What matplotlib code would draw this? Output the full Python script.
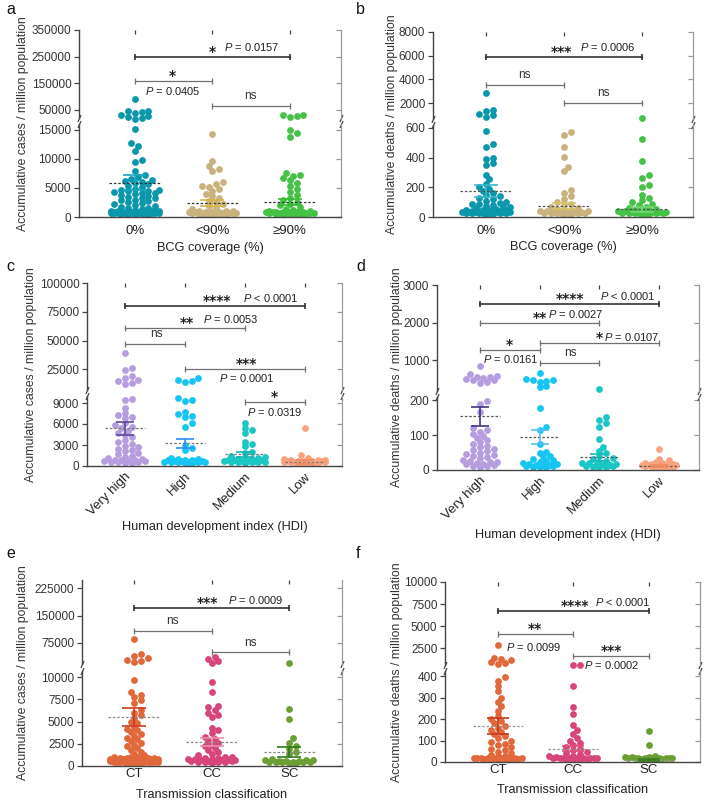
"""Scatter dot plots with broken y axes (BCG, HDI, transmission)"""

import numpy as np
import matplotlib
matplotlib.use('Agg')
import matplotlib.pyplot as plt
from matplotlib.transforms import Bbox, TransformedBbox

plt.rcParams['font.family'] = ['Liberation Sans', 'DejaVu Sans']
plt.rcParams['mathtext.fontset'] = 'custom'
plt.rcParams['mathtext.it'] = 'Liberation Sans:italic'
plt.rcParams['mathtext.rm'] = 'Liberation Sans'
plt.rcParams['text.color'] = '#222222'

W, H = 705, 801

# ---------------- data ----------------
bcg_labels = ['0%', '<90%', '≥90%']
hdi_labels = ['Very high', 'High', 'Medium', 'Low']
trans_labels = ['CT', 'CC', 'SC']

# a: cases by BCG coverage
cases_bcg_0 = [90000, 48000, 46000, 41000, 38000, 33000, 29000, 25000, 21000, 18000,
               15100, 12800, 12200, 11400, 9800, 9500, 8000, 7200, 6900, 6600,
               6400, 6200, 6000, 5800, 5600, 5400, 5100, 4900, 4700, 4600, 4500,
               4400, 4300, 4200, 4100, 3900, 3800, 3600, 3500, 3300, 3200, 3000,
               2900, 2700, 2600, 2400, 2200, 2100, 1900, 1800, 1600, 1500, 1400,
               1200, 1100, 1000, 980, 950, 930, 900, 880, 860, 840, 820, 800, 780,
               760, 740, 720, 700, 690, 680, 670, 660, 650, 640, 630, 620, 610,
               600, 590, 580, 570, 560]
cases_bcg_1 = [14300, 9600, 8700, 8300, 7900, 6000, 5700, 5400, 5200, 4900, 4500,
               4000, 3600, 3200, 2800, 2500, 2200, 1900, 1600, 1300, 1100, 1000,
               950, 900, 870, 840, 800, 780, 760, 740, 720, 700, 680, 660, 640,
               620, 600, 590, 580, 570, 560]
cases_bcg_2 = [33000, 30000, 27000, 24000, 15000, 14400, 13800, 7600, 7300, 7000,
               6700, 6300, 5900, 5300, 4800, 4300, 3700, 3300, 2900, 2600, 2300,
               2000, 1700, 1400, 1200, 1000, 960, 920, 900, 880, 850, 820, 800,
               780, 760, 740, 720, 700, 680, 660, 640, 620, 600, 590, 580, 570, 560]
cases_bcg_mean = [5900, 2450, 2550]
cases_bcg_sem = [1250, 520, 550]

# b: deaths by BCG coverage
deaths_bcg_0 = [2870, 1450, 1300, 1050, 950, 800, 580, 490, 475, 400, 390, 365,
                350, 285, 255, 225, 205, 190, 175, 160, 150, 140, 130, 120, 110,
                100, 95, 90, 85, 80, 75, 70, 65, 60, 55, 50, 48, 46, 44, 42, 40,
                39, 38, 37, 36, 35, 34, 33, 32, 31, 30, 29, 28, 27, 26, 25, 24, 23, 22]
deaths_bcg_1 = [570, 555, 475, 405, 340, 310, 180, 165, 140, 120, 100, 90, 80, 70,
                60, 55, 50, 46, 42, 40, 38, 36, 34, 32, 30, 29, 28, 27, 26, 25, 24,
                23, 22]
deaths_bcg_2 = [720, 525, 377, 280, 265, 215, 205, 150, 130, 115, 100, 90, 80, 70,
                62, 55, 50, 46, 42, 40, 38, 36, 34, 32, 31, 30, 29, 28, 27, 26, 25,
                24, 23, 22]
deaths_bcg_mean = [175, 74, 52]
deaths_bcg_sem = [41, 20, 15]

# c: cases by HDI
cases_hdi_0 = [39000, 26000, 24000, 19000, 17500, 16000, 15000, 13500, 12000,
               9600, 9400, 8300, 7600, 7300, 7000, 6800, 6100, 5900, 5600, 5400,
               5000, 4700, 4400, 4100, 3700, 3400, 3100, 2900, 2700, 2500, 2300,
               2100, 1900, 1700, 1500, 1300, 1100, 950, 900, 850, 800, 750, 700,
               650, 600, 560, 530, 500, 470]
cases_hdi_1 = [17500, 16000, 15000, 14000, 9700, 9500, 9300, 7700, 7400, 7200,
               7000, 6100, 5600, 3000, 2600, 2300, 1100, 1000, 950, 900, 850, 800,
               760, 720, 690, 660, 630, 600, 580, 560, 540, 520, 500, 480]
cases_hdi_2 = [6200, 5400, 5100, 4700, 3500, 3100, 2800, 2000, 1800, 1500, 1300,
               1100, 1050, 1000, 950, 900, 850, 800, 760, 720, 690, 660, 630, 600,
               570, 540, 510, 480]
cases_hdi_3 = [5500, 1600, 1100, 950, 900, 860, 820, 780, 750, 720, 690, 660, 640,
               620, 600, 580, 560, 540, 520, 500, 480, 470, 460]
cases_hdi_mean = [5400, 3250, 1670, 600]
cases_hdi_sem = [950, 650, 370, 250]

# d: deaths by HDI
deaths_hdi_0 = [840, 620, 590, 560, 540, 520, 500, 480, 460, 430, 400, 198, 190,
                168, 120, 115, 110, 104, 98, 93, 85, 80, 75, 70, 65, 60, 57, 54,
                50, 47, 44, 40, 37, 34, 30, 26, 24, 22, 20, 18, 16, 14, 12, 11, 10]
deaths_hdi_1 = [660, 500, 480, 460, 440, 420, 300, 280, 178, 124, 116, 75, 52, 48,
                40, 36, 32, 28, 25, 22, 20, 18, 16, 15, 14, 13, 12, 11, 10, 10, 9]
deaths_hdi_2 = [225, 152, 143, 134, 124, 88, 67, 55, 48, 40, 35, 31, 27, 24, 21,
                19, 17, 15, 14, 13, 12, 11, 10, 10, 9]
deaths_hdi_3 = [59, 33, 28, 22, 20, 19, 18, 17, 16, 15, 14, 13, 13, 12, 12, 11, 11,
                10, 10, 9, 9]
deaths_hdi_mean = [154, 95, 37, 12]
deaths_hdi_sem = [27, 21, 10, 3]

# e: cases by transmission classification
cases_tr_0 = [85000, 45000, 40000, 33000, 29000, 25000, 22000, 9650, 8300, 8000,
              7800, 7400, 7100, 6300, 6000, 5700, 5400, 5000, 4800, 4400, 4200,
              4000, 3800, 3600, 3400, 3200, 3000, 2800, 2600, 2400, 2200, 2000,
              1800, 1600, 1400, 1200, 1000, 980, 960, 940, 920, 900, 880, 860, 840,
              820, 800, 780, 760, 740, 720, 700, 680, 660, 640, 620, 600, 580, 560,
              540, 520, 500, 490, 480, 470, 460, 450, 440, 430, 420, 410, 400, 390,
              380, 370]
cases_tr_1 = [36000, 31000, 26000, 21000, 9450, 8300, 6800, 6600, 6300, 6000, 5800,
              5500, 4300, 4000, 3700, 3300, 3000, 2800, 2600, 2400, 2200, 2000,
              1800, 1600, 1400, 1200, 1000, 960, 920, 880, 840, 800, 760, 720, 690,
              660, 630, 600, 570, 540, 510, 480, 450, 420, 400, 380]
cases_tr_2 = [20000, 6450, 5350, 3100, 2600, 2200, 1900, 1600, 1300, 750, 700, 650,
              620, 590, 560, 530, 500, 480, 460, 440, 420, 400, 385, 370]
cases_tr_mean = [5530, 2720, 1600]
cases_tr_sem = [1050, 470, 580]

# f: deaths by transmission classification
deaths_tr_0 = [2840, 1350, 1250, 1150, 950, 850, 700, 395, 380, 356, 333, 300,
               280, 260, 240, 215, 200, 190, 180, 170, 160, 150, 140, 130, 120,
               110, 100, 92, 85, 78, 70, 62, 55, 48, 40, 34, 28, 22, 21, 20, 20,
               19, 19, 18, 18, 17, 17, 16, 16, 16, 15, 15, 15]
deaths_tr_1 = [650, 620, 356, 256, 225, 171, 150, 133, 111, 100, 90, 80, 71, 62,
               55, 48, 42, 36, 30, 26, 22, 21, 20, 20, 19, 19, 18, 18, 17, 17, 16,
               16, 15, 15]
deaths_tr_2 = [143, 79, 28, 25, 23, 22, 21, 20, 20, 19, 19, 18, 18, 17, 17, 16, 16,
               15, 15]
deaths_tr_mean = [169, 63, 10]
deaths_tr_sem = [36, 12, 3]

bcg_colors = ['#0b97ab', '#c9b27d', '#45c145']
hdi_colors = ['#b69ddf', '#16c5f2', '#1bc7c3', '#fba37f']
tr_colors = ['#e0683b', '#d7457b', '#6b9e33']

CASES = 'Accumulative cases / million population'
DEATHS = 'Accumulative deaths / million population'

PANELS = [
    dict(tag='a', tag_xy=(6, 10), groups=[cases_bcg_0, cases_bcg_1, cases_bcg_2],
         mean=cases_bcg_mean, sem=cases_bcg_sem, labels=bcg_labels, colors=bcg_colors,
         ecolors=['#17a6bb', '#d5b743', '#34bb34'], mcolor='#333333',
         box=(79, 341, 30, 118, 124, 217), xlim=(-0.72, 2.66),
         hi=(20000, 350000), lo=(0, 16000),
         hi_ticks=[50000, 150000, 250000, 350000], lo_ticks=[0, 5000, 10000, 15000],
         ylab=(CASES, 23), xlab=('BCG coverage (%)', 248), xpad=5.5, rot=False,
         brackets=[
             dict(x=(0, 2), y=250000, ax='hi', s='*', sx=1.0, p='= 0.0157', px=1.51, pp=7, dark=True),
             dict(x=(0, 1), y=159000, ax='hi', s='*', sx=0.48, p='= 0.0405', px=0.49, pp=-7.5),
             dict(x=(1, 2), y=65000, ax='hi', s='ns', sx=1.49),
         ]),
    dict(tag='b', tag_xy=(356, 10), groups=[deaths_bcg_0, deaths_bcg_1, deaths_bcg_2],
         mean=deaths_bcg_mean, sem=deaths_bcg_sem, labels=bcg_labels, colors=bcg_colors,
         ecolors=['#35b8cb', '#d9c466', '#72d872'], mcolor='#555555',
         box=(433, 693, 32, 119, 125, 217), xlim=(-0.68, 2.65),
         hi=(650, 8000), lo=(0, 620),
         hi_ticks=[2000, 4000, 6000, 8000], lo_ticks=[0, 200, 400, 600],
         ylab=(DEATHS, 392), xlab=('BCG coverage (%)', 247), xpad=6, rot=False,
         brackets=[
             dict(x=(0, 2), y=5900, ax='hi', s='***', sx=0.97, p='= 0.0006', px=1.56, pp=7, dark=True),
             dict(x=(0, 1), y=3520, ax='hi', s='ns', sx=0.49),
             dict(x=(1, 2), y=2000, ax='hi', s='ns', sx=1.5),
         ]),
    dict(tag='c', tag_xy=(6, 267), groups=[cases_hdi_0, cases_hdi_1, cases_hdi_2, cases_hdi_3],
         mean=cases_hdi_mean, sem=cases_hdi_sem, labels=hdi_labels, colors=hdi_colors,
         ecolors=['#5b4a9e', '#2b8ef0', '#12b3b3', '#f08a60'], mcolor='#777777',
         box=(87, 342, 283, 390, 396, 466), xlim=(-0.63, 3.62),
         hi=(7000, 100000), lo=(0, 10000),
         hi_ticks=[25000, 50000, 75000, 100000], lo_ticks=[0, 3000, 6000, 9000],
         ylab=(CASES, 31), xlab=('Human development index (HDI)', 527), xpad=3, rot=True,
         brackets=[
             dict(x=(0, 3), y=80000, ax='hi', s='****', sx=1.53, p='< 0.0001', px=2.43, pp=6, dark=True),
             dict(x=(0, 2), y=60800, ax='hi', s='**', sx=1.03, p='= 0.0053', px=1.77, pp=6.5),
             dict(x=(0, 1), y=46900, ax='hi', s='ns', sx=0.53),
             dict(x=(1, 3), y=25000, ax='hi', s='***', sx=2.03, p='= 0.0001', px=2.03, pp=-6.5),
             dict(x=(2, 3), y=9100, ax='lo', s='*', sx=2.5, p='= 0.0319', px=2.5, pp=-7),
         ]),
    dict(tag='d', tag_xy=(356, 267), groups=[deaths_hdi_0, deaths_hdi_1, deaths_hdi_2, deaths_hdi_3],
         mean=deaths_hdi_mean, sem=deaths_hdi_sem, labels=hdi_labels, colors=hdi_colors,
         ecolors=['#3f3386', '#59c0f4', '#18bcbc', '#f08a60'], mcolor='#555555',
         box=(437, 699, 285, 391, 397, 470), xlim=(-0.72, 3.67),
         hi=(180, 3000), lo=(0, 210),
         hi_ticks=[1000, 2000, 3000], lo_ticks=[0, 100, 200],
         ylab=(DEATHS, 397), xlab=('Human development index (HDI)', 535), xpad=3, rot=True,
         brackets=[
             dict(x=(0, 3), y=2490, ax='hi', s='****', sx=1.51, p='< 0.0001', px=2.47, pp=6, dark=True),
             dict(x=(0, 2), y=2000, ax='hi', s='**', sx=1.0, p='= 0.0027', px=1.61, pp=6.5),
             dict(x=(1, 3), y=1453, ax='hi', s='*', sx=2.0, p='= 0.0107', px=2.55, pp=4.5),
             dict(x=(0, 1), y=1267, ax='hi', s='*', sx=0.5, p='= 0.0161', px=0.52, pp=-6.5),
             dict(x=(1, 2), y=920, ax='hi', s='ns', sx=1.51),
         ]),
    dict(tag='e', tag_xy=(6, 553), groups=[cases_tr_0, cases_tr_1, cases_tr_2],
         mean=cases_tr_mean, sem=cases_tr_sem, labels=trans_labels, colors=tr_colors,
         ecolors=['#cf3b25', '#e591aa', '#2d7a1c'], mcolor='#888888',
         box=(82, 342, 580, 664, 671, 766), xlim=(-0.67, 2.68),
         hi=(17000, 247500), lo=(0, 10700),
         hi_ticks=[75000, 150000, 225000], lo_ticks=[0, 2500, 5000, 7500, 10000],
         ylab=(CASES, 23), xlab=('Transmission classification', 795), xpad=1.5, rot=False,
         brackets=[
             dict(x=(0, 2), y=170000, ax='hi', s='***', sx=0.95, p='= 0.0009', px=1.57, pp=6, dark=True),
             dict(x=(0, 1), y=107000, ax='hi', s='ns', sx=0.49),
             dict(x=(1, 2), y=49000, ax='hi', s='ns', sx=1.5),
         ]),
    dict(tag='f', tag_xy=(356, 553), groups=[deaths_tr_0, deaths_tr_1, deaths_tr_2],
         mean=deaths_tr_mean, sem=deaths_tr_sem, labels=trans_labels, colors=tr_colors,
         ecolors=['#c8391f', '#e05080', '#3a7a20'], mcolor='#999999',
         box=(445, 700, 582, 665, 671, 762), xlim=(-0.70, 2.68),
         hi=(600, 10000), lo=(0, 425),
         hi_ticks=[2500, 5000, 7500, 10000], lo_ticks=[0, 100, 200, 300, 400],
         ylab=(DEATHS, 397), xlab=('Transmission classification', 790), xpad=1.5, rot=False,
         brackets=[
             dict(x=(0, 2), y=6700, ax='hi', s='****', sx=1.02, p='< 0.0001', px=1.66, pp=6.5, dark=True),
             dict(x=(0, 1), y=4090, ax='hi', s='**', sx=0.49, p='= 0.0099', px=0.48, pp=-9.5),
             dict(x=(1, 2), y=1590, ax='hi', s='***', sx=1.51, p='= 0.0002', px=1.51, pp=-6.5),
         ]),
]

DIAM = 6.8  # marker diameter, px


def px_box(l, r, t, b):
    return [l / W, 1 - b / H, (r - l) / W, (b - t) / H]


def swarm_x(ax, xc, vals, half_w):
    """Spread points sideways so they do not pile up (display space)."""
    vals = np.asarray(vals, dtype=float)
    if len(vals) == 0:
        return vals
    disp = ax.transData.transform(np.column_stack([np.full(len(vals), float(xc)), vals]))
    step = DIAM * 0.5
    cands = [0.0]
    for k in range(1, int(half_w / step) + 1):
        cands += [k * step, -k * step]
    out = np.zeros(len(vals))
    placed = []
    for i in np.argsort(vals, kind='stable'):
        px, py = disp[i]
        best, best_d = 0.0, -1.0
        for c in cands:
            if placed:
                arr = np.array(placed)
                d = np.min(np.hypot(arr[:, 0] - (px + c), arr[:, 1] - py))
            else:
                d = np.inf
            if d >= DIAM * 0.72:
                best = c
                break
            if d > best_d:
                best, best_d = c, d
        placed.append((px + best, py))
        out[i] = px + best
    return ax.transData.inverted().transform(np.column_stack([out, disp[:, 1]]))[:, 0]


def style_axis(ax, lim, ticks, xlim):
    ax.set_xlim(*xlim)
    ax.set_ylim(*lim)
    ax.set_yticks(ticks)
    ax.set_yticklabels([str(v) for v in ticks])
    ax.tick_params(axis='y', direction='out', length=3.5, width=0.9, color='#444444',
                   labelsize=8.5, pad=2, labelcolor='#333333', right=False)
    ax.spines['left'].set_color('#444444')
    ax.spines['left'].set_linewidth(1.0)
    ax.spines['right'].set_color('#9a9a9a')
    ax.spines['right'].set_linewidth(0.9)
    ax.spines['top'].set_visible(False)
    ax.patch.set_alpha(0)
    # inward ticks on the right spine
    ax.plot(np.full(len(ticks), xlim[1]), ticks, ls='none', marker=0, ms=3.5,
            mew=0.9, color='#9a9a9a', clip_on=False)


def draw_panel(fig, p):
    l, r, t, hb, lt, b = p['box']
    ax_hi = fig.add_axes(px_box(l, r, t, hb))
    ax_lo = fig.add_axes(px_box(l, r, lt, b))
    n = len(p['groups'])
    style_axis(ax_hi, p['hi'], p['hi_ticks'], p['xlim'])
    style_axis(ax_lo, p['lo'], p['lo_ticks'], p['xlim'])

    ax_hi.spines['bottom'].set_visible(False)
    ax_hi.set_xticks(range(n))
    ax_hi.tick_params(axis='x', bottom=False, top=True, labelbottom=False,
                      direction='in', length=3, width=0.9, color='#444444')
    ax_lo.spines['bottom'].set_color('#444444')
    ax_lo.spines['bottom'].set_linewidth(1.0)
    ax_lo.set_xticks(range(n))
    if p['rot']:
        ax_lo.set_xticklabels(p['labels'], rotation=45, ha='right', rotation_mode='anchor')
    else:
        ax_lo.set_xticklabels(p['labels'])
    ax_lo.tick_params(axis='x', length=0, labelsize=9.5, pad=p['xpad'], labelcolor='#222222')

    # broken-axis marks
    kw = dict(marker=[(-0.45, -1), (0.45, 1)], markersize=5, linestyle='none',
              color='#444444', mec='#444444', mew=0.9, clip_on=False)
    ax_hi.plot([0, 1], [0, 0], transform=ax_hi.transAxes, **kw)
    ax_lo.plot([0, 1], [1, 1], transform=ax_lo.transAxes, **kw)

    # lower segment: clip at the x axis only
    lo_clip = TransformedBbox(Bbox([[-0.2, 0], [1.2, 1.3]]), ax_lo.transAxes)

    unit_px = (r - l) / (p['xlim'][1] - p['xlim'][0])
    half_w = 0.34 * unit_px
    for i, vals in enumerate(p['groups']):
        vals = np.asarray(vals, dtype=float)
        cut = p['lo'][1]
        for ax, part in ((ax_lo, vals[vals <= cut]), (ax_hi, vals[vals > cut])):
            if len(part) == 0:
                continue
            xs = swarm_x(ax, i, part, half_w)
            sc = ax.scatter(xs, part, s=(DIAM / 1.389) ** 2, c=p['colors'][i],
                            linewidths=0, zorder=2, clip_on=(ax is ax_lo))
            if ax is ax_lo:
                sc.set_clip_box(lo_clip)
        m, e = p['mean'][i], p['sem'][i]
        ax_lo.hlines(m, i - 0.33, i + 0.33, colors=p['mcolor'], lw=0.9,
                     linestyles=(0, (2, 1.5)), zorder=3)
        ax_lo.errorbar(i, m, yerr=e, fmt='none', ecolor=p['ecolors'][i],
                       elinewidth=1.2, capsize=0.15 * unit_px / 1.389, capthick=1.2,
                       zorder=4)

    for br in p['brackets']:
        ax = ax_hi if br['ax'] == 'hi' else ax_lo
        col = '#333333' if br.get('dark') else '#707070'
        lw = 1.2 if br.get('dark') else 0.9
        ax.plot(br['x'], [br['y'], br['y']], color=col, lw=lw, clip_on=False, zorder=5)
        ax.plot(br['x'], [br['y'], br['y']], ls='none', marker='|', ms=4, mew=lw,
                color=col, clip_on=False, zorder=5)
        if br['s'] == 'ns':
            ax.annotate('ns', (br['sx'], br['y']), xytext=(0, 7), textcoords='offset points',
                        ha='center', va='center', fontsize=8.5, color='#333333')
        else:
            ax.annotate(br['s'], (br['sx'], br['y']), xytext=(0, 3.5),
                        textcoords='offset points', ha='center', va='center',
                        fontsize=10, fontweight='bold', family='DejaVu Sans',
                        color='#222222')
        if 'p' in br:
            ax.annotate(r'$\mathit{P}$ ' + br['p'], (br['px'], br['y']),
                        xytext=(0, br['pp']), textcoords='offset points',
                        ha='center', va='center', fontsize=8, color='#222222')

    fig.text(p['ylab'][1] / W, 1 - (t + b) / 2 / H, p['ylab'][0], rotation=90,
             ha='center', va='center', fontsize=8.8, color='#333333')
    fig.text((l + r) / 2 / W, 1 - p['xlab'][1] / H, p['xlab'][0], ha='center',
             va='center', fontsize=9.2, color='#222222')
    fig.text(p['tag_xy'][0] / W, 1 - p['tag_xy'][1] / H, p['tag'], ha='left',
             va='center', fontsize=11.5, color='#111111')


def main():
    fig = plt.figure(figsize=(W / 100, H / 100), dpi=100)
    for p in PANELS:
        draw_panel(fig, p)
    fig.savefig('out.png', dpi=100, facecolor='white')


if __name__ == '__main__':
    main()
